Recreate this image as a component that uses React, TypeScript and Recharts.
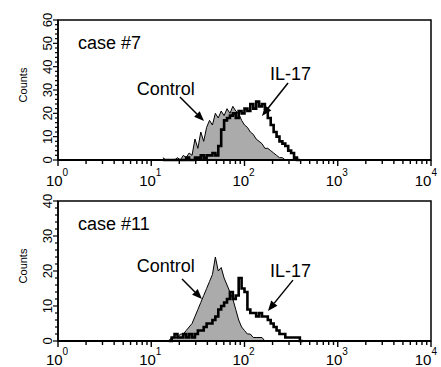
import {
  ComposedChart,
  Area,
  Line,
  XAxis,
  YAxis,
  ReferenceArea,
  ReferenceLine,
  ReferenceDot
} from 'recharts';

const FONT = 'Liberation Sans, Arial, Helvetica, sans-serif';

// log amplifier: 32 channels per decade, 10^0 .. 10^4
const CHANNELS_PER_DECADE = 32;

// case #7, channels 36..83
const case7Start = 36;
const case7Control = [
  1, 0, 0, 0, 0, 1, 0, 2, 1, 3,
  2, 9, 5, 12, 8, 14, 17, 15, 20, 18,
  21, 19, 22, 20, 23, 21, 20, 17, 15, 14,
  12, 11, 9, 8, 7, 5, 5, 4, 3, 2,
  1, 1, 0, 0, 0, 0, 0, 0
];
const case7IL17 = [
  0, 0, 0, 0, 0, 0, 0, 0, 1, 0,
  0, 1, 1, 2, 1, 2, 2, 3, 2, 6,
  13, 17, 18, 19, 20, 18, 21, 20, 22, 21,
  24, 22, 25, 23, 24, 22, 18, 15, 12, 10,
  8, 7, 6, 4, 3, 1, 0, 0
];

// case #11, channels 38..84
const case11Start = 38;
const case11Control = [
  0, 1, 1, 1, 2, 2, 3, 4, 5, 7,
  9, 11, 13, 15, 17, 19, 24, 20, 21, 18,
  16, 14, 12, 9, 6, 4, 3, 2, 2, 1,
  1, 1, 1, 0, 0, 0, 0, 0, 0, 0,
  0, 0, 0, 0, 0, 0, 0
];
const case11IL17 = [
  0, 1, 2, 1, 1, 2, 1, 2, 1, 2,
  3, 3, 4, 5, 5, 6, 7, 9, 10, 11,
  12, 14, 12, 13, 18, 15, 14, 9, 8, 8,
  7, 8, 7, 7, 6, 5, 4, 3, 2, 2,
  1, 1, 1, 1, 1, 0, 0
];

const xTicks = [
  1, 2, 3, 4, 5, 6, 7, 8, 9,
  10, 20, 30, 40, 50, 60, 70, 80, 90,
  100, 200, 300, 400, 500, 600, 700, 800, 900,
  1000, 2000, 3000, 4000, 5000, 6000, 7000, 8000, 9000,
  10000
];
const decadeLabels: Record<number, string> = { 1: '0', 10: '1', 100: '2', 1000: '3', 10000: '4' };
const case7YTicks = [
  0, 2, 4, 6, 8, 10, 12, 14, 16, 18, 20, 22, 24, 26, 28, 30,
  32, 34, 36, 38, 40, 42, 44, 46, 48, 50, 52, 54, 56, 58, 60
];
const case11YTicks = [
  0, 2, 4, 6, 8, 10, 12, 14, 16, 18, 20,
  22, 24, 26, 28, 30, 32, 34, 36, 38, 40
];

const buildRows = (start: number, control: number[], il17: number[]) =>
  control.map((c, i) => ({
    x: Math.pow(10, (start + i) / CHANNELS_PER_DECADE),
    control: c,
    il17: il17[i]
  }));

const makeXTick = (labelGap: number) => ({ x, y, payload }: any) => {
  const label = decadeLabels[payload.value];
  const last = payload.value === 10000;
  return (
    <g>
      <line x1={x} x2={x} y1={y} y2={y + (label ? 6 : 4)} stroke="#000" strokeWidth={1.4} />
      {label && (
        <text
          x={last ? x + 6 : x - 1}
          y={y + labelGap}
          textAnchor={last ? 'end' : 'middle'}
          fontFamily={FONT}
          fontSize={15}
          fill="#000"
        >
          <tspan>10</tspan>
          <tspan dy={-10} fontSize={10}>{label}</tspan>
        </text>
      )}
    </g>
  );
};

const YTick = ({ x, y, payload }: any) => {
  const major = payload.value % 10 === 0;
  return (
    <g>
      <line x1={x - (major ? 5 : 3)} x2={x} y1={y} y2={y} stroke="#000" strokeWidth={1.2} />
      {major && (
        <text
          transform={`translate(${x - 6},${y}) rotate(-90)`}
          textAnchor="middle"
          fontFamily={FONT}
          fontSize={13}
          fill="#000"
        >
          {payload.value}
        </text>
      )}
    </g>
  );
};

const CountsLabel = ({ viewBox }: any) => (
  <text
    transform={`translate(${viewBox.x + 27},${viewBox.y + viewBox.height / 2 - 5}) rotate(-90)`}
    textAnchor="middle"
    fontFamily={FONT}
    fontSize={11}
    fill="#000"
  >
    Counts
  </text>
);

const textShape = (value: string) => (p: any) => (
  <text x={p.cx} y={p.cy} fontFamily={FONT} fontSize={18} fill="#000">
    {value}
  </text>
);

const ArrowShape = (p: any) => {
  const { x1, y1, x2, y2 } = p;
  const a = Math.atan2(y2 - y1, x2 - x1);
  const len = 10;
  const w = 4;
  const bx = x2 - len * Math.cos(a);
  const by = y2 - len * Math.sin(a);
  const pts = [
    `${x2},${y2}`,
    `${bx + w * Math.sin(a)},${by - w * Math.cos(a)}`,
    `${bx - w * Math.sin(a)},${by + w * Math.cos(a)}`
  ].join(' ');
  return (
    <g>
      <line x1={x1} y1={y1} x2={bx} y2={by} stroke="#000" strokeWidth={1.5} />
      <polygon points={pts} fill="#000" />
    </g>
  );
};

type Note = { text: string; x: number; y: number };
type ArrowDef = { from: [number, number]; to: [number, number] };

const Histogram = ({
  rows,
  yMax,
  yTicks,
  notes,
  arrows,
  labelGap
}: {
  rows: any[];
  yMax: number;
  yTicks: number[];
  notes: Note[];
  arrows: ArrowDef[];
  labelGap: number;
}) => (
  <ComposedChart width={441} height={190} data={rows} margin={{ top: 20, right: 10, left: 0, bottom: 0 }}>
    <XAxis
      dataKey="x"
      type="number"
      scale="log"
      domain={[1, 10000]}
      ticks={xTicks}
      interval={0}
      allowDataOverflow
      height={30}
      tickSize={0}
      tickMargin={0}
      tickLine={false}
      tick={makeXTick(labelGap)}
      axisLine={{ stroke: '#000', strokeWidth: 2 }}
    />
    <YAxis
      type="number"
      domain={[0, yMax]}
      ticks={yTicks}
      interval={0}
      width={58}
      tickSize={0}
      tickMargin={0}
      tickLine={false}
      tick={<YTick />}
      axisLine={{ stroke: '#000', strokeWidth: 1.5 }}
      label={<CountsLabel />}
    />
    <ReferenceArea
      x1={1}
      x2={10000}
      y1={0}
      y2={yMax}
      fill="none"
      stroke="#000"
      strokeWidth={1.5}
      ifOverflow="visible"
    />
    <Area
      dataKey="control"
      type="linear"
      stroke="#000"
      strokeWidth={1}
      fill="#ababab"
      fillOpacity={1}
      isAnimationActive={false}
      dot={false}
      activeDot={false}
    />
    <Line
      dataKey="il17"
      type="stepAfter"
      stroke="#000"
      strokeWidth={2.6}
      dot={false}
      activeDot={false}
      isAnimationActive={false}
    />
    {notes.map((n) => (
      <ReferenceDot key={n.text} x={n.x} y={n.y} r={0} shape={textShape(n.text)} ifOverflow="visible" />
    ))}
    {arrows.map((a, i) => (
      <ReferenceLine
        key={i}
        segment={[
          { x: a.from[0], y: a.from[1] },
          { x: a.to[0], y: a.to[1] }
        ]}
        shape={ArrowShape}
        ifOverflow="visible"
      />
    ))}
  </ComposedChart>
);

export default function App() {
  return (
    <div
      style={{
        position: 'fixed',
        left: 0,
        top: 0,
        width: 441,
        height: 367,
        background: '#fff',
        overflow: 'hidden'
      }}
    >
      <div style={{ position: 'absolute', left: 0, top: 0 }}>
        <Histogram
          rows={buildRows(case7Start, case7Control, case7IL17)}
          yMax={60}
          yTicks={case7YTicks}
          labelGap={26}
          notes={[
            { text: 'case #7', x: 1.64, y: 47.6 },
            { text: 'Control', x: 7.0, y: 27.9 },
            { text: 'IL-17', x: 188, y: 34.3 }
          ]}
          arrows={[
            { from: [20.3, 27], to: [36.8, 16.7] },
            { from: [293, 33], to: [154, 18.9] }
          ]}
        />
      </div>
      <div style={{ position: 'absolute', left: 0, top: 181 }}>
        <Histogram
          rows={buildRows(case11Start, case11Control, case11IL17)}
          yMax={40}
          yTicks={case11YTicks}
          labelGap={24}
          notes={[
            { text: 'case #11', x: 1.64, y: 31.7 },
            { text: 'Control', x: 7.0, y: 19.7 },
            { text: 'IL-17', x: 188, y: 18.3 }
          ]}
          arrows={[
            { from: [21.4, 17.7], to: [35, 12] },
            { from: [331, 17.4], to: [178.6, 8.6] }
          ]}
        />
      </div>
    </div>
  );
}
